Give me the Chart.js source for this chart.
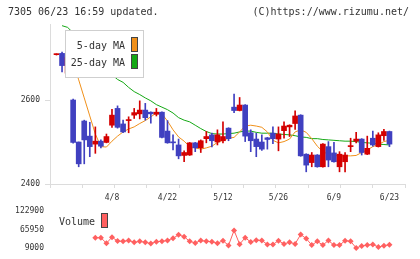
<!DOCTYPE html>
<html>
<head>
<meta charset="utf-8">
<script src="https://cdn.jsdelivr.net/npm/chart.js@4.4.1/dist/chart.umd.min.js"></script>
<style>
  html, body { margin: 0; padding: 0; background: #fff; }
  #wrap { position: relative; width: 420px; height: 259px; overflow: hidden; }
  canvas { position: absolute; left: 0; }
  .hdr { position: absolute; top: 6px; font: 10px "DejaVu Sans Mono", monospace; color: #333; white-space: nowrap; }
</style>
</head>
<body>
<div id="wrap">
  <canvas id="priceChart" width="420" height="206" style="top:0"></canvas>
  <canvas id="volChart" width="420" height="59" style="top:200px"></canvas>
  <div class="hdr" style="left:8px">7305 06/23 16:59 updated.</div>
  <div class="hdr" style="right:11px">(C)https://www.rizumu.net/</div>
</div>
<script>
// --- Data ---
const dateLabels = ['4/8', '4/22', '5/12', '5/26', '6/9', '6/23'];
const labelIdx = [10, 20, 30, 40, 50, 60];

const openP = [2708, 2711, 2664, 2600, 2500, 2550, 2514, 2495, 2502, 2499,
    2540, 2580, 2543, 2551, 2564, 2567, 2576, 2571, 2566, 2571,
    2526, 2500, 2493, 2468, 2469, 2498, 2486, 2508, 2517, 2500,
    2503, 2533, 2583, 2575, 2588, 2522, 2507, 2500, 2510, 2521,
    2507, 2527, 2536, 2544, 2564, 2471, 2451, 2469, 2441, 2489,
    2474, 2441, 2453, 2489, 2502, 2507, 2471, 2509, 2489, 2515,
    2525];
const highP = [2710, 2714, 2711, 2602, 2500, 2552, 2547, 2536, 2505, 2519,
    2578, 2586, 2552, 2560, 2580, 2598, 2592, 2572, 2580, 2572,
    2551, 2517, 2507, 2479, 2499, 2499, 2505, 2525, 2521, 2529,
    2548, 2534, 2614, 2606, 2589, 2529, 2521, 2517, 2511, 2536,
    2536, 2548, 2541, 2574, 2565, 2472, 2475, 2470, 2496, 2501,
    2499, 2477, 2475, 2509, 2523, 2508, 2514, 2526, 2522, 2530,
    2526];
const lowP = [2707, 2667, 2662, 2497, 2441, 2448, 2465, 2473, 2486, 2498,
    2535, 2533, 2522, 2522, 2556, 2555, 2552, 2545, 2562, 2510,
    2497, 2481, 2460, 2453, 2468, 2477, 2475, 2498, 2488, 2493,
    2498, 2503, 2570, 2574, 2501, 2477, 2465, 2480, 2483, 2496,
    2479, 2509, 2513, 2530, 2466, 2429, 2441, 2440, 2440, 2441,
    2452, 2429, 2429, 2477, 2498, 2469, 2470, 2490, 2488, 2504,
    2489];
const closeP = [2709, 2682, 2701, 2499, 2448, 2505, 2489, 2502, 2490, 2513,
    2564, 2535, 2524, 2552, 2570, 2576, 2558, 2567, 2571, 2511,
    2498, 2498, 2467, 2475, 2498, 2486, 2503, 2513, 2503, 2517,
    2513, 2508, 2575, 2588, 2514, 2503, 2489, 2483, 2506, 2508,
    2519, 2538, 2540, 2562, 2467, 2445, 2469, 2441, 2495, 2457,
    2453, 2471, 2469, 2490, 2507, 2475, 2485, 2493, 2517, 2525,
    2495];

const ma5 = [null, null, null, 2690, 2648, 2605, 2562, 2519, 2489, 2488,
    2502, 2514, 2524, 2531, 2536, 2544, 2551, 2560, 2569, 2567,
    2550, 2529, 2512, 2502, 2489, 2486, 2483, 2486, 2490, 2499,
    2504, 2509, 2511, 2524, 2538, 2540, 2538, 2535, 2524, 2504,
    2498, 2501, 2507, 2524, 2529, 2523, 2508, 2490, 2477, 2471,
    2468, 2467, 2467, 2467, 2468, 2475, 2481, 2489, 2494, 2501,
    2504];
const ma25 = [null, 2777, 2773, 2760, 2743, 2729, 2714, 2700, 2686, 2671,
    2660, 2649, 2642, 2630, 2620, 2613, 2605, 2598, 2589, 2583,
    2577, 2569, 2558, 2552, 2548, 2540, 2532, 2525, 2520, 2519,
    2519, 2520, 2521, 2524, 2526, 2526, 2523, 2521, 2521, 2521,
    2519, 2518, 2517, 2515, 2512, 2511, 2508, 2508, 2506, 2505,
    2504, 2503, 2502, 2502, 2501, 2499, 2498, 2497, 2495, 2494,
    2493];

const volume = [null, null, null, null, null, null, null, 41000, 41000, 24100,
    42600, 30600, 29800, 32600, 26900, 29800, 26900, 23200, 28900, 29800,
    32600, 39200, 49700, 44000, 29800, 25000, 32600, 29800, 28900, 24100,
    31800, 17500, 63100, 21200, 41000, 27800, 33500, 32600, 20400, 20400,
    31800, 22100, 26900, 22100, 50600, 38300, 18400, 29800, 18400, 32600,
    18400, 18400, 31800, 29800, 9900, 15600, 18400, 20400, 12700, 16400,
    19300];

const priceTicks = [2400, 2600];
const volTicks = [9000, 65950, 122900];

// --- Styles ---
const UP = '#d40000';
const DOWN = '#4040c0';
const MA5_COLOR = '#f0901a';
const MA25_COLOR = '#14a814';
const VOL_COLOR = '#ff6060';
const AXIS = '#dcdcdc';
const TEXT = '#333';
const FONT = '"DejaVu Sans Mono", monospace';

const X_MIN = -1.17, X_MAX = 62.8;   // index range across the plot width
const MARKS = 11;                    // tick-mark intervals on the time axis

const idx = closeP.map((_, i) => i);
const candleColor = idx.map(i => closeP[i] >= openP[i] ? UP : DOWN);
const pts = arr => arr.map((v, i) => ({ x: i, y: v }));
const plain = v => String(v);

// legend box drawn inside the plot, over the lines
const boxLegend = {
    id: 'boxLegend',
    afterDatasetsDraw(chart, args, opts) {
        const ctx = chart.ctx;
        const items = chart.data.datasets.filter(d => d.legendSwatch);
        ctx.save();
        if (opts.frame) {
            ctx.fillStyle = '#fff';
            ctx.strokeStyle = '#cfcfcf';
            ctx.lineWidth = 1;
            ctx.fillRect(opts.frame[0], opts.frame[1], opts.frame[2], opts.frame[3]);
            ctx.strokeRect(opts.frame[0] + 0.5, opts.frame[1] + 0.5, opts.frame[2], opts.frame[3]);
        }
        ctx.font = '10px ' + FONT;
        ctx.textAlign = 'right';
        ctx.textBaseline = 'middle';
        items.forEach((d, k) => {
            const y = opts.y + k * opts.step;
            ctx.fillStyle = TEXT;
            ctx.fillText(d.label, opts.textRight, y);
            ctx.fillStyle = d.legendSwatch;
            ctx.fillRect(opts.swatchX, y - 9, 6, 15);
            ctx.strokeStyle = '#444';
            ctx.strokeRect(opts.swatchX + 0.5, y - 8.5, 6, 14);
        });
        ctx.restore();
    }
};

// --- Price chart ---
new Chart(document.getElementById('priceChart'), {
    type: 'bar',
    data: {
        datasets: [
            {
                type: 'bar', label: 'body', order: 1,
                data: idx.map(i => ({ x: i, y: [Math.min(openP[i], closeP[i]), Math.max(openP[i], closeP[i])] })),
                backgroundColor: candleColor, barThickness: 5, minBarLength: 1, grouped: false, borderWidth: 0
            },
            {
                type: 'bar', label: 'wick', order: 2,
                data: idx.map(i => ({ x: i, y: [lowP[i], highP[i]] })),
                backgroundColor: candleColor, barThickness: 1, grouped: false, borderWidth: 0
            },
            {
                type: 'line', label: '5-day MA', order: 3, legendSwatch: MA5_COLOR,
                data: pts(ma5), borderColor: MA5_COLOR, borderWidth: 1, pointRadius: 0, tension: 0
            },
            {
                type: 'line', label: '25-day MA', order: 3, legendSwatch: MA25_COLOR,
                data: pts(ma25), borderColor: MA25_COLOR, borderWidth: 1, pointRadius: 0, tension: 0
            }
        ]
    },
    options: {
        responsive: false,
        animation: false,
        devicePixelRatio: 1,
        layout: { padding: { top: 24, right: 15, left: 0, bottom: 0 } },
        plugins: {
            legend: { display: false },
            tooltip: { enabled: false },
            boxLegend: { frame: [65, 30, 78, 47], y: 46, step: 17, textRight: 125, swatchX: 131 }
        },
        scales: {
            x: {
                type: 'linear', position: 'bottom', min: X_MIN, max: X_MAX, offset: false,
                grid: { drawOnChartArea: false, offset: false, tickLength: 4, color: AXIS },
                border: { color: AXIS },
                ticks: { display: false },
                afterBuildTicks: s => {
                    s.ticks = Array.from({ length: MARKS + 1 }, (_, k) => ({ value: X_MIN + k * (X_MAX - X_MIN) / MARKS }));
                },
                afterFit: s => { s.height = 4; }
            },
            xl: {
                type: 'linear', position: 'bottom', min: X_MIN, max: X_MAX, offset: false,
                grid: { display: false, drawTicks: false, offset: false },
                border: { display: false },
                ticks: {
                    padding: 5, color: TEXT, font: { family: FONT, size: 8 }, maxRotation: 0, autoSkip: false,
                    callback: v => dateLabels[labelIdx.indexOf(v)]
                },
                afterBuildTicks: s => { s.ticks = labelIdx.map(v => ({ value: v })); },
                afterFit: s => { s.height = 18; }
            },
            y: {
                min: 2400, max: 2781,
                grid: { drawOnChartArea: false, tickLength: 5, color: AXIS },
                border: { color: AXIS },
                ticks: { padding: 5, color: TEXT, font: { family: FONT, size: 8 }, callback: plain },
                afterBuildTicks: s => { s.ticks = priceTicks.map(v => ({ value: v })); },
                afterFit: s => { s.width = 50; }
            }
        }
    },
    plugins: [boxLegend]
});

// --- Volume chart ---
new Chart(document.getElementById('volChart'), {
    type: 'line',
    data: {
        datasets: [{
            label: 'Volume', legendSwatch: VOL_COLOR,
            data: pts(volume),
            borderColor: VOL_COLOR, backgroundColor: VOL_COLOR, borderWidth: 1,
            pointStyle: 'rectRot', pointRadius: 3, pointBorderWidth: 0,
            clip: false
        }]
    },
    options: {
        responsive: false,
        animation: false,
        devicePixelRatio: 1,
        layout: { padding: { top: 9.3, right: 15, left: 0, bottom: 9.7 } },
        plugins: {
            legend: { display: false },
            tooltip: { enabled: false },
            boxLegend: { y: 22, step: 0, textRight: 95, swatchX: 101 }
        },
        scales: {
            x: { type: 'linear', display: false, min: X_MIN, max: X_MAX },
            y: {
                min: 9000, max: 122900,
                grid: { display: false, drawTicks: false },
                border: { display: false },
                ticks: { padding: 6, color: TEXT, font: { family: FONT, size: 8 }, callback: plain },
                afterBuildTicks: s => { s.ticks = volTicks.map(v => ({ value: v })); },
                afterFit: s => { s.width = 50; }
            }
        }
    },
    plugins: [boxLegend]
});
</script>
</body>
</html>
